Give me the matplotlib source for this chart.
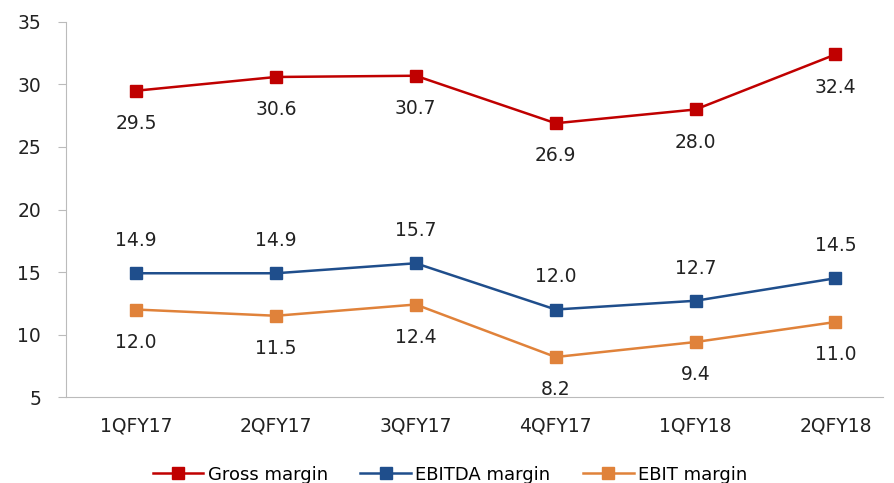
import matplotlib
matplotlib.use("Agg")
import matplotlib.pyplot as plt

quarters = ["1QFY17", "2QFY17", "3QFY17", "4QFY17", "1QFY18", "2QFY18"]
gross = [29.5, 30.6, 30.7, 26.9, 28.0, 32.4]
ebitda = [14.9, 14.9, 15.7, 12.0, 12.7, 14.5]
ebit = [12.0, 11.5, 12.4, 8.2, 9.4, 11.0]

plt.rcParams['font.family'] = ['DejaVu Sans']

fig = plt.figure(figsize=(8.94, 4.83), dpi=100)
ax = fig.add_axes([0.0738, 0.178, 0.9139, 0.7765])

x = list(range(len(quarters)))
series = [
    ("Gross margin", gross, "#C00000", -1),
    ("EBITDA margin", ebitda, "#1F4E8C", 1),
    ("EBIT margin", ebit, "#E0823A", -1),
]
for name, vals, col, side in series:
    ax.plot(x, vals, color=col, lw=1.8, marker="s", markersize=9, label=name)
    for xi, v in zip(x, vals):
        ax.annotate("%.1f" % v, (xi, v), xytext=(0, 23.5 * side), textcoords="offset points",
                    ha="center", va="center", fontsize=13.5, color="#222222")

ax.set_xlim(-0.5, 5.34)
ax.set_ylim(5, 35)
ax.set_yticks(range(5, 36, 5))
ax.set_xticks(x)
ax.set_xticklabels(quarters)
ax.tick_params(axis="y", length=6, color="#bbbbbb", labelsize=13.5, pad=12, labelcolor="#222222")
ax.tick_params(axis="x", length=0, labelsize=13.5, pad=14, labelcolor="#222222")
for s in ["top", "right"]:
    ax.spines[s].set_visible(False)
for s in ["left", "bottom"]:
    ax.spines[s].set_color("#bbbbbb")

ax.legend(loc="center", bbox_to_anchor=(0.47, -0.207), ncol=3, frameon=False,
          fontsize=13, handlelength=2.8, handletextpad=0.25, columnspacing=1.8)

fig.savefig("out.png", dpi=100)
